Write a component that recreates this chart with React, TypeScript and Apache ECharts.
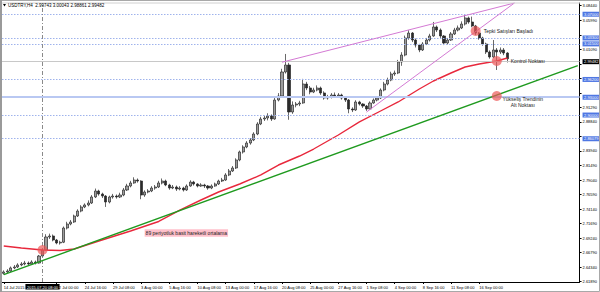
import React, { useEffect, useRef } from "react";
import * as echarts from "echarts";

// 8-hour candles
const firstOpen = 2.633;
const closes = [
  2.6353, 2.637, 2.6421, 2.6437, 2.6471, 2.6488, 2.6504, 2.6488, 2.6521, 2.6504,
  2.6622, 2.6724, 2.6943, 2.696, 2.6892, 2.6842, 2.6855, 2.7095, 2.7162, 2.7196,
  2.7297, 2.7381, 2.7449, 2.7483, 2.7516, 2.7618, 2.7719, 2.7668, 2.7634, 2.7533,
  2.7618, 2.7634, 2.7618, 2.7651, 2.7736, 2.7803, 2.7854, 2.7904, 2.7887, 2.7651,
  2.7702, 2.7719, 2.7769, 2.7786, 2.7854, 2.7887, 2.782, 2.7769, 2.7786, 2.7752,
  2.7769, 2.7736, 2.7803, 2.787, 2.7837, 2.7803, 2.782, 2.7803, 2.7769, 2.7803,
  2.7837, 2.7887, 2.7904, 2.7989, 2.8056, 2.8107, 2.8242, 2.8377, 2.8461, 2.8528,
  2.8579, 2.868, 2.8849, 2.8933, 2.895, 2.8984, 2.8933, 2.9253, 2.9321, 2.9726,
  2.9844, 2.9051, 2.9169, 2.9186, 2.9203, 2.9523, 2.9456, 2.9388, 2.9422, 2.9456,
  2.9372, 2.9287, 2.9304, 2.9338, 2.9321, 2.9338, 2.9287, 2.9253, 2.9102, 2.9085,
  2.922, 2.9186, 2.9152, 2.9102, 2.9203, 2.9253, 2.9287, 2.9422, 2.9523,
  2.9591, 2.9692, 2.9709, 2.9895, 3.0012, 3.0299, 3.0383, 3.0265, 3.0181, 3.0097,
  3.0198, 3.0265, 3.0333, 3.0485, 3.0434, 3.0333, 3.0215, 3.0265, 3.0367, 3.0434,
  3.0468, 3.0535, 3.0637, 3.0569, 3.0502, 3.0383, 3.0299, 3.0198, 3.0063, 2.9979,
  3.0097, 3.0063, 3.0097, 3.0046, 2.99482,
];
const highs = [
  2.638, 2.64, 2.6445, 2.647, 2.65, 2.652, 2.654, 2.653, 2.655, 2.6545,
  2.664, 2.675, 2.699, 2.7, 2.6985, 2.691, 2.688, 2.712, 2.72, 2.723,
  2.732, 2.741, 2.748, 2.751, 2.756, 2.765, 2.776, 2.774, 2.769, 2.765,
  2.764, 2.767, 2.766, 2.769, 2.777, 2.784, 2.789, 2.795, 2.793, 2.79,
  2.773, 2.775, 2.78, 2.782, 2.789, 2.793, 2.791, 2.784, 2.782, 2.781,
  2.78, 2.779, 2.783, 2.79, 2.789, 2.785, 2.785, 2.784, 2.782, 2.783,
  2.786, 2.791, 2.794, 2.802, 2.809, 2.814, 2.827, 2.84, 2.849, 2.856,
  2.861, 2.871, 2.888, 2.897, 2.899, 2.903, 2.901, 2.93, 2.937, 2.978,
  3.003, 2.988, 2.923, 2.922, 2.924, 2.961, 2.956, 2.949, 2.946, 2.95,
  2.948, 2.94, 2.934, 2.937, 2.938, 2.937, 2.936, 2.931, 2.927, 2.913,
  2.925, 2.924, 2.92, 2.917, 2.923, 2.928, 2.932, 2.945, 2.956,
  2.963, 2.973, 2.975, 2.993, 3.006, 3.034, 3.043, 3.04, 3.029, 3.02,
  3.023, 3.03, 3.037, 3.057, 3.051, 3.046, 3.035, 3.03, 3.04, 3.047,
  3.051, 3.058, 3.069, 3.066, 3.066, 3.052, 3.04, 3.032, 3.022, 3.009,
  3.0265, 3.013, 3.014, 3.013, 3.006,
];
const lows = [
  2.631, 2.633, 2.6355, 2.64, 2.642, 2.645, 2.6465, 2.6455, 2.647, 2.648,
  2.6495, 2.661, 2.6715, 2.691, 2.687, 2.682, 2.6815, 2.684, 2.707, 2.714,
  2.718, 2.728, 2.736, 2.743, 2.746, 2.75, 2.76, 2.764, 2.76, 2.745,
  2.751, 2.759, 2.759, 2.76, 2.763, 2.772, 2.778, 2.784, 2.786, 2.758,
  2.762, 2.768, 2.77, 2.774, 2.777, 2.783, 2.78, 2.774, 2.775, 2.772,
  2.773, 2.771, 2.772, 2.779, 2.781, 2.778, 2.779, 2.777, 2.774, 2.775,
  2.779, 2.782, 2.787, 2.789, 2.797, 2.804, 2.809, 2.822, 2.835, 2.844,
  2.85, 2.856, 2.866, 2.883, 2.89, 2.891, 2.89, 2.892, 2.923, 2.93,
  2.97, 2.892, 2.902, 2.913, 2.915, 2.919, 2.942, 2.935, 2.937, 2.94,
  2.934, 2.926, 2.926, 2.928, 2.929, 2.93, 2.926, 2.922, 2.903, 2.905,
  2.907, 2.916, 2.912, 2.907, 2.909, 2.919, 2.923, 2.927, 2.94,
  2.95, 2.957, 2.966, 2.969, 2.983, 2.999, 3.027, 3.023, 3.014, 3.006,
  3.008, 3.018, 3.024, 3.032, 3.04, 3.03, 3.018, 3.019, 3.025, 3.035,
  3.041, 3.045, 3.051, 3.054, 3.048, 3.035, 3.027, 3.017, 3.003, 2.995,
  2.996, 2.976, 3.003, 3.001, 2.9886,
];

// 89-period simple moving average, read at sparse candle indices
const maIdx = [0, 5, 11, 16, 20, 27, 36, 44, 50, 56, 61, 67, 73, 78, 84, 88, 95, 101, 107, 112, 118, 122, 127, 131, 135, 140, 143];
const maVals = [2.6791, 2.6757, 2.6724, 2.6715, 2.6741, 2.6875, 2.7044, 2.7205, 2.7398, 2.7567, 2.7702, 2.7837, 2.7989, 2.8157, 2.8309, 2.8427, 2.8663, 2.8883, 2.9068, 2.922, 2.9439, 2.9574, 2.9709, 2.981, 2.9861, 2.9912, 2.9962];

const categoryCount = 164;
const xTickIdx = [0, 15, 23, 31, 39, 47, 55, 63, 71, 79, 87, 95, 103, 111, 119, 127, 135];
const xTickLabels = [
  "14 Jul 2015", "22 Jul 00:00", "24 Jul 16:00", "29 Jul 08:00", "3 Aug 00:00", "5 Aug 16:00",
  "10 Aug 08:00", "13 Aug 00:00", "17 Aug 16:00", "20 Aug 08:00", "25 Aug 00:00", "27 Aug 16:00",
  "1 Sep 08:00", "4 Sep 00:00", "8 Sep 16:00", "11 Sep 08:00", "16 Sep 00:00",
];
const yTicks = [2.6189, 2.6434, 2.6679, 2.6924, 2.7169, 2.7414, 2.7659, 2.7904, 2.8149, 2.8394, 2.8639, 2.8884, 2.9129, 2.9374, 2.9619, 2.9864, 3.0109, 3.0354, 3.0599, 3.0844];
// tick labels hidden behind the highlighted price labels in the reference
const yTicksCovered = [2.8639, 2.9374, 2.9619, 2.9864, 3.0354];

const dottedLevels = [3.07, 3.033, 3.015, 2.962, 2.9, 2.86079];
const solidLevel = 2.93;
const labelOnlyLevel = 2.987;
const lastPrice = 2.99482;
const crossIdx = 11;
const crossLabel = "2015.07.20 08:00";

const greenLine = [[0, 2.6307], [163, 2.9834]];
const wedgeUpper = [[79, 2.9891], [145, 3.0889]];
const wedgeLower = [[103, 2.905], [145, 3.0889]];

const circles = [
  { idx: 11, price: 2.6724 },
  { idx: 134, price: 3.0417 },
  { idx: 140, price: 2.9912 },
  { idx: 140, price: 2.9321 },
];
const noteMa = { idx: 40, price: 2.701, text: "89 periyotluk basit hareketli ortalama" };
const noteSell = "Tepki Satışları Başladı";
const noteControl = "Kontrol Noktası";
const noteTrend = "Yükseliş Trendinin\nAlt Noktası";
const titleText = "USDTRY,H4  2.99743 3.00043 2.98861 2.99482";

const FONT = "Liberation Sans, Arial, sans-serif";

export default function App() {
  const ref = useRef<HTMLDivElement>(null);
  useEffect(() => {
    if (!ref.current) return;
    const chart = echarts.init(ref.current, null, { renderer: "svg" });
    const categories = Array.from({ length: categoryCount }, (_, i) => String(i));
    const candles = closes.map((c, i) => {
      const o = i === 0 ? firstOpen : closes[i - 1];
      return [o, c, lows[i], highs[i]];
    });
    const yLabelValues = yTicks.filter((v) => !yTicksCovered.includes(v));
    const axisLbl = (txt: string, bg: string) => ({
      show: true,
      position: "end",
      formatter: txt,
      backgroundColor: bg,
      color: "#fff",
      fontSize: 4,
      fontFamily: FONT,
      padding: [0.5, 1.5, 0.5, 1.5],
      distance: 3,
    });
    const markLines: any[] = [];
    dottedLevels.forEach((v) =>
      markLines.push({
        yAxis: v,
        lineStyle: { color: "#9fb3ec", type: [1.5, 1.5], width: 1 },
        label: axisLbl(v.toFixed(5), "#4f77e3"),
      })
    );
    markLines.push({
      yAxis: solidLevel,
      lineStyle: { color: "#b9c8f2", type: "solid", width: 2 },
      label: axisLbl(solidLevel.toFixed(5), "#4f77e3"),
    });
    markLines.push({
      yAxis: labelOnlyLevel,
      lineStyle: { opacity: 0 },
      label: axisLbl(labelOnlyLevel.toFixed(5), "#4f77e3"),
    });
    markLines.push({
      yAxis: lastPrice,
      lineStyle: { color: "#c8c8c8", type: "solid", width: 1 },
      label: axisLbl(lastPrice.toFixed(5), "#000"),
    });
    markLines.push({
      xAxis: crossIdx,
      lineStyle: { color: "#8a8a8a", type: [4, 2, 1, 2], width: 1 },
      label: {
        show: true,
        position: "start",
        formatter: crossLabel,
        backgroundColor: "#000",
        color: "#fff",
        fontSize: 4,
        fontFamily: FONT,
        padding: [1, 1.5, 0.5, 1.5],
        distance: 2,
      },
    });
    const seg = (pts: number[][], color: string, width: number) => [
      { coord: pts[0], lineStyle: { color, width, type: "solid" }, label: { show: false } },
      { coord: pts[1] },
    ];
    markLines.push(seg(greenLine, "#1f9a1f", 1.4));
    markLines.push(seg(wedgeUpper, "#d47ad4", 1));
    markLines.push(seg(wedgeLower, "#d47ad4", 1));

    const circleStyle = { color: "rgba(236,88,88,0.7)" };
    const txtStyle = { color: "#222", fontSize: 5, fontFamily: FONT };
    const markPoints: any[] = [
      { coord: [circles[0].idx, circles[0].price], symbol: "circle", symbolSize: 10, itemStyle: circleStyle, label: { show: false } },
      {
        coord: [circles[1].idx, circles[1].price], symbol: "circle", symbolSize: 10, itemStyle: circleStyle,
        label: { show: true, position: "right", distance: 3, formatter: noteSell, ...txtStyle },
      },
      {
        coord: [circles[2].idx, circles[2].price], symbol: "circle", symbolSize: 10, itemStyle: circleStyle,
        label: { show: true, position: "right", distance: 9, formatter: noteControl, ...txtStyle },
      },
      {
        coord: [circles[3].idx, circles[3].price], symbol: "circle", symbolSize: 10, itemStyle: circleStyle,
        label: {
          show: true, position: [31, 11], align: "center", verticalAlign: "middle",
          formatter: noteTrend, lineHeight: 6, ...txtStyle,
        },
      },
      {
        coord: [noteMa.idx, noteMa.price], symbol: "circle", symbolSize: 0,
        label: {
          show: true, position: "right", distance: 0, formatter: noteMa.text,
          backgroundColor: "#ffc0cb", padding: [1.5, 1, 1, 1], ...txtStyle,
        },
      },
    ];

    chart.setOption({
      animation: false,
      backgroundColor: "#fff",
      grid: { left: 2, right: 20, top: 3, bottom: 10, containLabel: false },
      xAxis: {
        type: "category",
        data: categories,
        boundaryGap: true,
        axisLine: { show: true, lineStyle: { color: "#000", width: 1 } },
        axisTick: {
          show: true, length: 2, alignWithLabel: true,
          interval: (i: number) => xTickIdx.includes(i),
          lineStyle: { color: "#000" },
        },
        axisLabel: {
          show: true,
          interval: (i: number) => xTickIdx.includes(i),
          formatter: (_v: string, i: number) => {
            const k = xTickIdx.indexOf(i);
            return k >= 0 ? xTickLabels[k] : "";
          },
          align: "left",
          fontSize: 4,
          fontFamily: FONT,
          color: "#000",
          margin: 3,
        },
        splitLine: { show: false },
      },
      yAxis: {
        type: "value",
        position: "right",
        min: 2.6184,
        max: 3.08895,
        scale: true,
        splitLine: { show: false },
        axisLine: { show: true, lineStyle: { color: "#000", width: 1 } },
        axisTick: { show: true, length: 2, customValues: yTicks, lineStyle: { color: "#000" } },
        axisLabel: {
          show: true,
          customValues: yLabelValues,
          formatter: (v: number) => v.toFixed(5),
          fontSize: 4,
          fontFamily: FONT,
          color: "#000",
          margin: 3,
        },
      },
      graphic: [
        { type: "rect", shape: { x: 0.5, y: 0.5, width: 599, height: 291 }, style: { fill: "none", stroke: "#a8a8a8", lineWidth: 1 }, z: 100 },
        { type: "rect", shape: { x: 0, y: 0, width: 2, height: 292 }, style: { fill: "#9a9a9a" }, z: 100 },
        { type: "line", shape: { x1: 2, y1: 3, x2: 580, y2: 3 }, style: { stroke: "#d0d0d0", lineWidth: 1 }, z: 100 },
        { type: "polygon", shape: { points: [[3, 4], [6, 4], [4.5, 6.5]] }, style: { fill: "#000" }, z: 100 },
        { type: "text", x: 8, y: 5, style: { text: titleText, fontSize: 4.5, fontFamily: FONT, fill: "#000", verticalAlign: "middle" }, z: 100 },
      ],
      series: [
        {
          type: "candlestick",
          data: candles,
          barWidth: 2.6,
          itemStyle: {
            color: "#9c9c9c",
            color0: "#2a2a2a",
            borderColor: "#2a2a2a",
            borderColor0: "#2a2a2a",
            borderWidth: 0.7,
          },
          markLine: { symbol: ["none", "none"], silent: true, animation: false, data: markLines },
          z: 3,
        },
        {
          type: "line",
          data: maIdx.map((x, k) => [x, maVals[k]]),
          showSymbol: false,
          symbol: "none",
          lineStyle: { color: "#e8283c", width: 1.4 },
          markPoint: { silent: true, animation: false, data: markPoints },
          z: 4,
        },
      ],
    });
    return () => chart.dispose();
  }, []);
  return <div ref={ref} style={{ width: 600, height: 292, position: "absolute", left: 0, top: 0 }} />;
}
